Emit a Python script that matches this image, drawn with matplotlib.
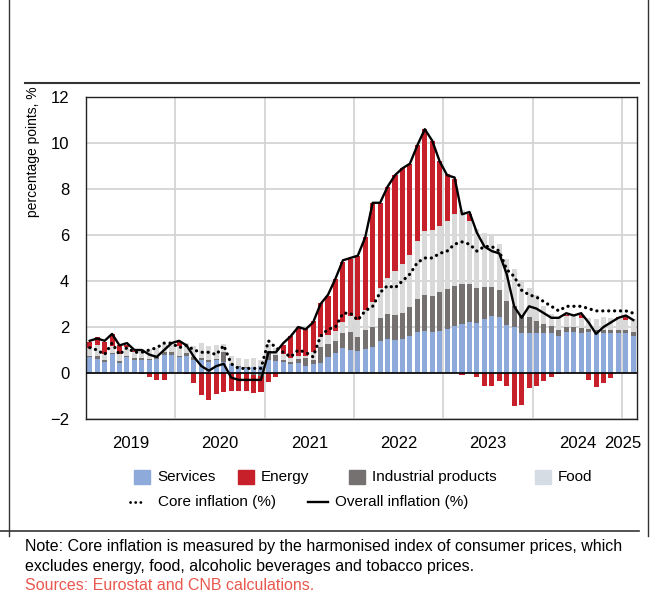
import numpy as np
import matplotlib
matplotlib.use('Agg')
import matplotlib.pyplot as plt
from matplotlib.patches import Rectangle
from matplotlib.lines import Line2D

# monthly contributions, Jan 2019 - Feb 2025 (percentage points)
services = [0.68, 0.62, 0.50, 0.84, 0.45, 0.70, 0.55, 0.58, 0.55, 0.62, 0.80, 0.80,
            0.68, 0.72, 0.58, 0.56, 0.50, 0.55, 0.48, 0.40, 0.28, 0.22, 0.26, 0.30,
            0.56, 0.52, 0.50, 0.38, 0.42, 0.32, 0.38, 0.45, 0.68, 0.85, 1.10, 1.00,
            0.96, 1.05, 1.13, 1.38, 1.46, 1.42, 1.46, 1.59, 1.80, 1.81, 1.77, 1.81,
            1.90, 2.05, 2.15, 2.22, 2.18, 2.33, 2.47, 2.42, 2.08, 2.01, 1.74, 1.75,
            1.76, 1.72, 1.76, 1.63, 1.80, 1.80, 1.76, 1.80, 1.76, 1.72, 1.72, 1.76,
            1.72, 1.63]
energy = [0.26, 0.35, 0.52, 0.52, 0.37, 0.09, 0.05, -0.06, -0.18, -0.30, -0.31, 0.02,
          0.19, -0.03, -0.44, -0.95, -1.17, -0.91, -0.82, -0.76, -0.80, -0.80, -0.81, -0.68,
          -0.40, -0.16, 0.41, 0.99, 1.24, 1.20, 1.36, 1.46, 1.67, 2.25, 2.61, 2.47,
          2.79, 3.15, 4.32, 3.69, 3.95, 4.16, 4.18, 3.95, 4.16, 4.41, 3.87, 2.79,
          2.05, 1.50, -0.08, 0.30, -0.18, -0.55, -0.58, -0.35, -0.55, -1.45, -1.39, -0.67,
          -0.58, -0.34, -0.17, -0.06, 0.03, 0.02, 0.12, -0.30, -0.62, -0.45, -0.20, 0.01,
          0.18, 0.02]
industrial = [0.08, 0.13, 0.05, 0.05, 0.08, 0.05, 0.10, 0.08, 0.08, 0.08, 0.10, 0.13,
              0.08, 0.13, 0.13, 0.08, 0.05, 0.05, 0.42, -0.03, 0.03, 0.05, -0.08, -0.13,
              0.41, 0.27, 0.08, 0.11, 0.19, 0.32, 0.19, 0.70, 0.57, 0.54, 0.65, 0.78,
              0.60, 0.81, 0.88, 0.99, 1.09, 1.12, 1.17, 1.30, 1.43, 1.59, 1.59, 1.70,
              1.74, 1.75, 1.70, 1.63, 1.51, 1.42, 1.28, 1.18, 1.05, 0.89, 0.80, 0.67,
              0.52, 0.42, 0.29, 0.23, 0.18, 0.18, 0.18, 0.10, 0.10, 0.13, 0.13, 0.13,
              0.13, 0.16]
food = [0.32, 0.45, 0.29, 0.29, 0.31, 0.38, 0.27, 0.39, 0.41, 0.37, 0.35, 0.39,
        0.42, 0.44, 0.46, 0.68, 0.61, 0.61, 0.38, 0.32, 0.34, 0.36, 0.38, 0.25,
        0.30, 0.28, 0.24, 0.15, 0.13, 0.11, 0.34, 0.43, 0.41, 0.43, 0.47, 0.69,
        0.75, 0.89, 1.07, 1.34, 1.60, 1.90, 2.09, 2.26, 2.51, 2.79, 2.87, 2.90,
        2.96, 3.13, 3.22, 2.78, 2.55, 2.35, 2.22, 2.02, 1.82, 1.60, 1.40, 1.26,
        1.12, 0.78, 0.52, 0.56, 0.52, 0.48, 0.46, 0.48, 0.48, 0.58, 0.54, 0.52,
        0.46, 0.54]
core = [1.1, 1.0, 0.8, 1.3, 0.8, 1.1, 0.9, 0.9, 1.0, 1.1, 1.3, 1.3,
        1.1, 1.2, 1.0, 0.9, 0.9, 0.8, 1.2, 0.4, 0.2, 0.2, 0.2, 0.2,
        1.4, 1.1, 0.9, 0.7, 1.0, 0.9, 0.7, 1.6, 1.9, 2.0, 2.6, 2.6,
        2.3, 2.7, 2.9, 3.5, 3.8, 3.7, 4.0, 4.3, 4.8, 5.0, 5.0, 5.2,
        5.3, 5.6, 5.7, 5.6, 5.3, 5.5, 5.5, 5.3, 4.5, 4.2, 3.6, 3.4,
        3.3, 3.1, 2.9, 2.7, 2.9, 2.9, 2.9, 2.8, 2.7, 2.7, 2.7, 2.7,
        2.7, 2.6]
overall = [1.4, 1.5, 1.4, 1.7, 1.2, 1.3, 1.0, 1.0, 0.8, 0.7, 1.0, 1.3,
           1.4, 1.2, 0.7, 0.3, 0.1, 0.3, 0.4, -0.2, -0.3, -0.3, -0.3, -0.3,
           0.9, 0.9, 1.3, 1.6, 2.0, 1.9, 2.2, 3.0, 3.4, 4.1, 4.9, 5.0,
           5.1, 5.9, 7.4, 7.4, 8.1, 8.6, 8.9, 9.1, 9.9, 10.6, 10.1, 9.2,
           8.6, 8.5, 6.9, 7.0, 6.1, 5.5, 5.3, 5.2, 4.3, 2.9, 2.4, 2.9,
           2.8, 2.6, 2.4, 2.4, 2.6, 2.5, 2.6, 2.2, 1.7, 2.0, 2.2, 2.4,
           2.5, 2.3]
years = ['2019', '2020', '2021', '2022', '2023', '2024', '2025']

W, H = 655, 596
C_SERV = '#8eaadb'
C_ENER = '#c8202a'
C_IND = '#767171'
C_FOOD = '#d9d9d9'
FONT = ['Liberation Sans', 'DejaVu Sans']
DOTS = (0, (0.05, 1.8))


def fx(px):
    return px / W


def fy(py):
    return 1 - py / H


fig = plt.figure(figsize=(W / 100, H / 100), dpi=100)
ax = fig.add_axes([fx(86), fy(419), (637 - 86) / W, (419 - 97) / H])

x = np.arange(len(services))
pos = np.zeros(len(x))
neg = np.zeros(len(x))
for vals, col in [(services, C_SERV), (industrial, C_IND), (food, C_FOOD), (energy, C_ENER)]:
    v = np.array(vals)
    p = np.where(v > 0, v, 0)
    n = np.where(v < 0, v, 0)
    ax.bar(x, p, bottom=pos, width=0.68, color=col, zorder=2)
    ax.bar(x, n, bottom=neg, width=0.68, color=col, zorder=2)
    pos += p
    neg += n

ax.plot(x, core, color='black', lw=2.3, linestyle=DOTS,
        dash_capstyle='round', zorder=4)
ax.plot(x, overall, color='black', lw=1.7, zorder=5)
ax.axhline(0, color='black', lw=1.2, zorder=3)

ax.set_xlim(-0.5, len(x) - 0.5)
ax.set_ylim(-2, 12)
ax.set_yticks(range(-2, 13, 2))
ax.set_yticklabels(['\u22122', '0', '2', '4', '6', '8', '10', '12'])
ax.set_xticks([5.5, 17.5, 29.5, 41.5, 53.5, 65.5, 71.6])
ax.set_xticklabels(years)
ax.set_xticks(np.arange(11.5, len(x), 12), minor=True)
ax.grid(axis='y', which='major', color='#d4d4d4', lw=1.3, zorder=0)
ax.grid(axis='x', which='minor', color='#d4d4d4', lw=1.3, zorder=0)
ax.tick_params(axis='both', which='both', length=0)
ax.tick_params(axis='y', pad=12)
ax.tick_params(axis='x', pad=12)
for lab in ax.get_xticklabels() + ax.get_yticklabels():
    lab.set_family(FONT)
    lab.set_fontsize(12)
for sp in ax.spines.values():
    sp.set_color('#222222')
    sp.set_linewidth(1.0)

fig.text(fx(33), fy(152), 'percentage points, %', rotation=90, ha='center',
         va='center', fontsize=10, family=FONT)

# frame and separators
fig.add_artist(Line2D([fx(9), fx(9)], [fy(0), fy(536)], color='#333333', lw=1.0))
fig.add_artist(Line2D([fx(648), fx(648)], [fy(0), fy(536)], color='#333333', lw=1.0))
fig.add_artist(Line2D([fx(25), fx(639)], [fy(83), fy(83)], color='#333333', lw=1.5))
fig.add_artist(Line2D([fx(0), fx(639)], [fy(531), fy(531)], color='#333333', lw=1.2))

# legend
row1, row2 = 477, 502
patches = [(134, C_SERV, 'Services'), (238, C_ENER, 'Energy'),
           (349, C_IND, 'Industrial products'), (535, '#d6dce4', 'Food')]
for px, col, txt in patches:
    fig.add_artist(Rectangle((fx(px), fy(row1 + 7)), 16 / W, 14 / H,
                             transform=fig.transFigure, color=col))
    fig.text(fx(px + 23), fy(row1), txt, ha='left', va='center',
             fontsize=11, family=FONT)
fig.add_artist(Line2D([fx(130), fx(143)], [fy(row2), fy(row2)], color='black', lw=2.0,
                      linestyle=DOTS, dash_capstyle='round'))
fig.text(fx(158), fy(row2), 'Core inflation (%)', ha='left', va='center',
         fontsize=11, family=FONT)
fig.add_artist(Line2D([fx(308), fx(328)], [fy(row2), fy(row2)], color='black', lw=1.7))
fig.text(fx(335), fy(row2), 'Overall inflation (%)', ha='left', va='center',
         fontsize=11, family=FONT)

fig.text(fx(25), fy(546), 'Note: Core inflation is measured by the harmonised index '
         'of consumer prices, which', ha='left', va='center', fontsize=11.5, family=FONT)
fig.text(fx(25), fy(566), 'excludes energy, food, alcoholic beverages and tobacco prices.',
         ha='left', va='center', fontsize=11.5, family=FONT)
fig.text(fx(25), fy(585), 'Sources: Eurostat and CNB calculations.', ha='left',
         va='center', fontsize=11.5, color='#e8584e', family=FONT)

fig.savefig('out.png', dpi=100)
